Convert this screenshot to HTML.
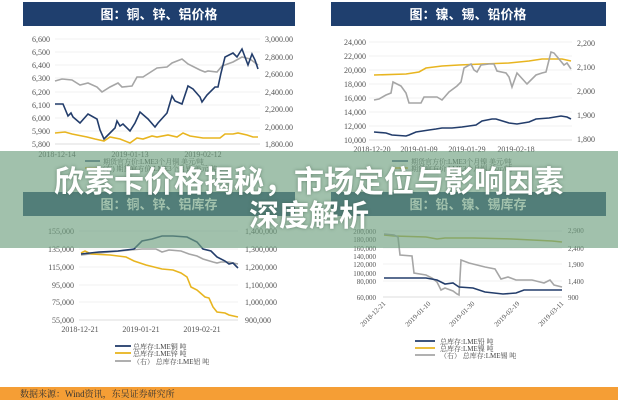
<!DOCTYPE html>
<html><head><meta charset="utf-8"><style>
body{margin:0;width:618px;height:400px;overflow:hidden;background:#fff;font-family:"Liberation Sans","Noto Sans CJK SC",sans-serif;}
svg{position:absolute;left:0;top:0}
.ax{font-family:"Liberation Serif","Noto Serif CJK SC",serif;font-size:8px;fill:#555}
.lg{font-family:"Liberation Serif","Noto Serif CJK SC",serif;font-size:7px;fill:#444}
.hd{font-family:"Liberation Sans","Noto Sans CJK SC",sans-serif;font-size:13px;font-weight:bold;fill:#fff}
.g{stroke:#e4e4e4;stroke-width:0.6}
.n{fill:none;stroke:#233d6b;stroke-width:1.6}
.y{fill:none;stroke:#e8b520;stroke-width:1.6}
.s{fill:none;stroke:#a6a6a6;stroke-width:1.6}
.t{position:absolute;left:0;width:618px;text-align:center;color:#fff;font-weight:bold;font-size:30px;font-family:"Liberation Sans","Noto Sans CJK SC",sans-serif;text-shadow:0 0 3px rgba(60,90,70,.6);letter-spacing:0}
</style></head><body>
<svg width="618" height="400" viewBox="0 0 618 400">
<rect x="23" y="2" width="272" height="24" fill="#1f3f6e"/>
<rect x="331" y="2" width="275" height="24" fill="#1f3f6e"/>
<rect x="23" y="192" width="272" height="24" fill="#1f3f6e"/>
<rect x="331" y="192" width="275" height="24" fill="#1f3f6e"/>
<text class="hd" x="159" y="19" text-anchor="middle">图：铜、锌、铝价格</text>
<text class="hd" x="468" y="19" text-anchor="middle">图：镍、锡、铅价格</text>
<text class="hd" x="159" y="209" text-anchor="middle">图：铜、锌、铝库存</text>
<text class="hd" x="468" y="209" text-anchor="middle">图：铅、镍、锡库存</text>

<g class="g"><line x1="55" x2="260" y1="39" y2="39"/><line x1="55" x2="260" y1="52" y2="52"/><line x1="55" x2="260" y1="65" y2="65"/><line x1="55" x2="260" y1="78" y2="78"/><line x1="55" x2="260" y1="92" y2="92"/><line x1="55" x2="260" y1="105" y2="105"/><line x1="55" x2="260" y1="118" y2="118"/><line x1="55" x2="260" y1="131" y2="131"/><line x1="55" x2="260" y1="144" y2="144" stroke="#bbb"/></g>
<g class="ax" text-anchor="end"><text x="50" y="42">6,600</text><text x="50" y="55">6,500</text><text x="50" y="68">6,400</text><text x="50" y="81">6,300</text><text x="50" y="95">6,200</text><text x="50" y="108">6,100</text><text x="50" y="121">6,000</text><text x="50" y="134">5,900</text><text x="50" y="147">5,800</text></g>
<g class="ax"><text x="265" y="42">3,000.00</text><text x="265" y="60">2,800.00</text><text x="265" y="77">2,600.00</text><text x="265" y="95">2,400.00</text><text x="265" y="112">2,200.00</text><text x="265" y="130">2,000.00</text><text x="265" y="147">1,800.00</text></g>
<g class="ax" text-anchor="middle"><text x="57" y="157">2018-12-14</text><text x="130" y="157">2019-01-13</text><text x="203" y="157">2019-02-12</text></g>
<polyline class="s" points="55,81 62,79 72,80 80,85 88,83 97,87 102,92 110,87 118,83 122,87 132,86 137,77 143,77 157,68 167,67 172,63 182,59 188,64 200,70 205,72 208,71 217,72 222,66 233,62 242,57 250,59 258,65"/>
<polyline class="y" points="55,133 65,132 72,134 87,137 95,139 104,141 110,137 120,139 130,143 137,138 143,139 152,136 157,137 168,135 177,137 183,133 190,136 203,138 220,138 225,134 233,134 238,133 247,135 253,137 258,137"/>
<polyline class="n" points="55,104 63,104 68,116 71,113 73,117 80,123 88,114 97,119 100,130 104,139 110,133 115,128 117,121 120,126 123,124 130,131 135,123 140,112 148,119 155,127 158,123 167,113 172,96 175,101 182,104 188,86 193,89 200,97 202,102 207,95 215,87 218,87 221,73 225,57 233,53 237,57 242,49 248,65 252,54 255,60 258,69"/>
<line x1="85" x2="100" y1="161" y2="161" stroke="#233d6b" stroke-width="1.5"/><text class="lg" x="103" y="164">期货官方价:LME3个月铜 美元/吨</text>
<line x1="85" x2="100" y1="168" y2="168" stroke="#e8b520" stroke-width="1.5"/><text class="lg" x="103" y="171">(右) 期货官方价:LME3个月铝 美元/吨</text>

<g class="g"><line x1="369" x2="572" y1="42" y2="42"/><line x1="369" x2="572" y1="56" y2="56"/><line x1="369" x2="572" y1="70" y2="70"/><line x1="369" x2="572" y1="84" y2="84"/><line x1="369" x2="572" y1="98" y2="98"/><line x1="369" x2="572" y1="112" y2="112"/><line x1="369" x2="572" y1="126" y2="126"/><line x1="369" x2="572" y1="140" y2="140" stroke="#bbb"/></g>
<g class="ax" text-anchor="end"><text x="366" y="45">24,000</text><text x="366" y="59">22,000</text><text x="366" y="73">20,000</text><text x="366" y="87">18,000</text><text x="366" y="101">16,000</text><text x="366" y="115">14,000</text><text x="366" y="129">12,000</text><text x="366" y="143">10,000</text></g>
<g class="ax"><text x="577" y="46">2,200</text><text x="577" y="70">2,100</text><text x="577" y="94">2,000</text><text x="577" y="118">1,900</text><text x="577" y="142">1,800</text></g>
<g class="ax" text-anchor="middle"><text x="372" y="152">2018-12-20</text><text x="419" y="152">2019-01-09</text><text x="467" y="152">2019-01-29</text><text x="516" y="152">2019-02-18</text></g>
<polyline class="y" points="374,75 406,74 419,72 426,68 442,66 459,65 482,64 509,63 529,61 542,59 562,59 571,61"/>
<polyline class="s" points="374,100 379,99 386,95 391,93 393,82 401,86 406,93 409,103 421,103 424,97 437,97 442,100 449,92 457,86 461,82 464,68 471,64 474,70 477,72 481,65 489,64 494,64 497,71 506,73 509,77 512,87 517,73 527,84 536,75 542,73 546,72 551,52 554,53 564,65 567,63 571,69"/>
<polyline class="n" points="374,132 386,133 392,135 406,136 409,135 416,132 429,130 436,129 442,128 452,128 462,127 476,125 482,121 492,119 496,119 509,123 517,124 529,122 536,119 549,118 561,116 567,117 571,119"/>
<line x1="392" x2="408" y1="161" y2="161" stroke="#233d6b" stroke-width="1.5"/><text class="lg" x="411" y="164">期货官方价:LME3个月镍 美元/吨</text>
<line x1="392" x2="408" y1="168" y2="168" stroke="#e8b520" stroke-width="1.5"/><text class="lg" x="411" y="171">期货官方价:LME3个月锡 美元/吨</text>

<g class="g"><line x1="79" x2="238" y1="231" y2="231"/><line x1="79" x2="238" y1="249" y2="249"/><line x1="79" x2="238" y1="267" y2="267"/><line x1="79" x2="238" y1="285" y2="285"/><line x1="79" x2="238" y1="302" y2="302"/><line x1="79" x2="238" y1="320" y2="320" stroke="#bbb"/></g>
<g class="ax" text-anchor="end"><text x="74" y="234">155,000</text><text x="74" y="252">135,000</text><text x="74" y="270">115,000</text><text x="74" y="288">95,000</text><text x="74" y="305">75,000</text><text x="74" y="323">55,000</text></g>
<g class="ax"><text x="245" y="234">1,400,000</text><text x="245" y="252">1,300,000</text><text x="245" y="270">1,200,000</text><text x="245" y="288">1,100,000</text><text x="245" y="305">1,000,000</text><text x="245" y="323">900,000</text></g>
<g class="ax" text-anchor="middle"><text x="80" y="332">2018-12-21</text><text x="141" y="332">2019-01-21</text><text x="202" y="332">2019-02-21</text></g>
<polyline class="s" points="81,255 99,253 130,250 142,249 156,249 162,252 169,250 181,251 189,254 197,256 203,259 213,262 217,263 221,262 229,262 233,263 238,264"/>
<polyline class="y" points="81,253 85,251 91,254 110,255 126,257 134,261 146,265 162,269 173,270 181,273 187,277 191,287 197,290 205,297 209,298 213,307 217,312 225,313 229,315 238,317"/>
<polyline class="n" points="81,254 99,252 118,251 134,249 142,241 152,239 162,236 173,236 187,237 197,242 203,249 211,251 217,257 225,261 229,264 233,263 238,268"/>
<line x1="115" x2="131" y1="346" y2="346" stroke="#233d6b" stroke-width="1.8"/><text class="lg" x="133" y="349">总库存:LME铜 吨</text>
<line x1="115" x2="131" y1="353" y2="353" stroke="#e8b520" stroke-width="1.8"/><text class="lg" x="133" y="356">总库存:LME锌 吨</text>
<line x1="115" x2="131" y1="361" y2="361" stroke="#a6a6a6" stroke-width="1.8"/><text class="lg" x="133" y="364">（右） 总库存:LME铝 吨</text>

<g class="g"><line x1="383" x2="562" y1="231" y2="231"/><line x1="383" x2="562" y1="248" y2="248"/><line x1="383" x2="562" y1="264" y2="264"/><line x1="383" x2="562" y1="281" y2="281"/><line x1="383" x2="562" y1="297" y2="297" stroke="#bbb"/></g>
<g class="ax" text-anchor="end" style="font-size:7px"><text x="376" y="234">200,000</text><text x="376" y="242">180,000</text><text x="376" y="251">160,000</text><text x="376" y="259">140,000</text><text x="376" y="267">120,000</text><text x="376" y="276">100,000</text><text x="376" y="284">80,000</text><text x="376" y="300">60,000</text></g>
<g class="ax" style="font-size:7px"><text x="568" y="233">2,900</text><text x="568" y="251">2,400</text><text x="568" y="267">1,900</text><text x="568" y="284">1,400</text><text x="568" y="300">900</text></g>
<g class="ax" text-anchor="end" style="font-size:7px">
<text transform="translate(386,304) rotate(-45)">2018-12-21</text>
<text transform="translate(431,304) rotate(-45)">2019-01-10</text>
<text transform="translate(475,304) rotate(-45)">2019-01-30</text>
<text transform="translate(520,304) rotate(-45)">2019-02-19</text>
<text transform="translate(564,304) rotate(-45)">2019-03-11</text></g>
<polyline fill="none" stroke="#b9b53a" stroke-width="1.5" points="384,235 394,236 426,237 437,239 445,238 473,238 512,239 552,241 562,242"/>
<polyline class="s" points="384,234 394,235 398,237 400,255 412,256 414,273 426,275 432,278 437,282 441,290 445,288 453,291 457,294 459,295 461,260 469,263 485,267 495,269 501,279 508,277 516,280 532,280 540,282 544,283 550,280 554,285 562,287"/>
<polyline class="n" points="384,278 426,278 437,280 445,284 453,283 459,287 473,288 485,292 503,294 516,293 524,290 562,290"/>
<line x1="415" x2="435" y1="341" y2="341" stroke="#233d6b" stroke-width="1.8"/><text class="lg" x="440" y="344">总库存:LME铅 吨</text>
<line x1="415" x2="435" y1="348" y2="348" stroke="#e8b520" stroke-width="1.8"/><text class="lg" x="440" y="351">总库存:LME镍 吨</text>
<line x1="415" x2="435" y1="355" y2="355" stroke="#a6a6a6" stroke-width="1.8"/><text class="lg" x="440" y="358">（右） 总库存:LME锡 吨</text>

<rect x="0" y="151" width="618" height="97" fill="rgb(110,160,128)" fill-opacity="0.65"/>
<rect x="0" y="387" width="618" height="13" fill="#f59e35"/>
<text x="20" y="397" style="font-family:'Liberation Serif','Noto Serif CJK SC',serif;font-size:9px" fill="#333">数据来源：Wind资讯，东吴证券研究所</text>
</svg>
<div class="t" style="top:165px;line-height:36px">欣素卡价格揭秘，市场定位与影响因素</div>
<div class="t" style="top:199px;line-height:36px">深度解析</div>
</body></html>
